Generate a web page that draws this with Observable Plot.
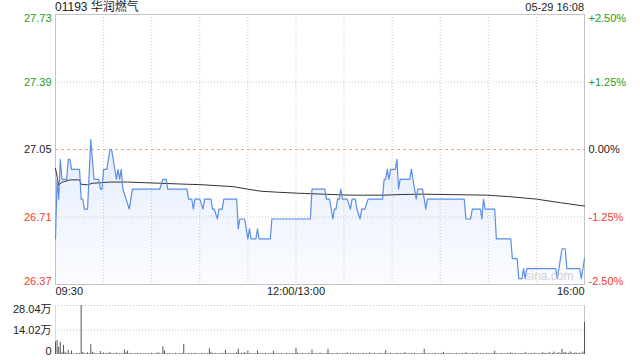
<!DOCTYPE html>
<html><head><meta charset="utf-8">
<script src="https://cdn.jsdelivr.net/npm/d3@7"></script>
<script src="https://cdn.jsdelivr.net/npm/@observablehq/plot@0.6"></script>
<style>
body{margin:0;background:#fff;font-family:"Liberation Sans",Arial,"Noto Sans CJK SC",sans-serif;}
#wrap{position:relative;width:640px;height:360px;overflow:hidden;background:#fff;}
.hdr{position:absolute;top:0;color:#222;line-height:14px;white-space:nowrap;}
#main,#vol{position:absolute;left:0;}
</style></head><body>
<div id="wrap">
<div id="main" style="top:0"></div>
<div id="vol" style="top:300px"></div>
<div class="hdr" style="left:55px;font-size:12px;">01193 华润燃气</div>
<div class="hdr" style="right:56px;font-size:11px;">05-29 16:08</div>
</div>
<script>
// ---- data ----
const stockTitle = "01193 华润燃气";
const prevClose = 27.05;
const priceTicks = [27.73, 27.39, 27.05, 26.71, 26.37];
const pctLabels = ["+2.50%", "+1.25%", "0.00%", "-1.25%", "-2.50%"];
const timeMinutes = [0, 150, 330];
const timeLabels = ["09:30", "12:00/13:00", "16:00"];
const gridMinutes = [30, 60, 90, 120, 150, 180, 210, 240, 270, 300];
const volTicks = [28.04, 14.02, 0];
const volTickLabels = ["28.04万", "14.02万", "0"];

// price vertices: minute since 09:30 (trading time), price
const priceMinutes = [0,1,2,3,4,7,8,9,10,15,16,17,18,20,22,24,27,28,29,30,32,34,35,37,38,39,40,41,42,44,46,48,65,67,69,70,82,83,85,86,87,90,92,93,97,98,99,101,102,104,105,113,114,115,118,120,121,122,125,126,127,134,135,159,160,168,169,171,173,174,175,176,177,178,179,182,184,185,187,188,190,191,193,195,204,205,206,207,208,209,212,213,214,215,221,222,223,225,226,229,231,232,255,256,259,260,265,266,267,268,274,275,284,285,288,289,291,292,293,294,312,313,316,318,319,327,328,330];
const priceValues = [26.60,26.90,26.80,27.00,26.90,26.90,27.00,27.00,26.95,26.95,26.80,26.80,26.75,26.75,27.10,26.90,26.90,26.85,26.85,26.95,26.95,27.05,27.05,26.95,26.90,26.95,26.90,26.95,26.85,26.80,26.75,26.85,26.85,26.90,26.90,26.85,26.85,26.80,26.80,26.75,26.80,26.80,26.75,26.80,26.80,26.75,26.75,26.70,26.75,26.75,26.80,26.80,26.65,26.70,26.70,26.60,26.65,26.60,26.60,26.65,26.60,26.60,26.70,26.70,26.85,26.85,26.80,26.80,26.70,26.75,26.75,26.80,26.80,26.85,26.80,26.80,26.75,26.80,26.80,26.75,26.70,26.75,26.75,26.80,26.80,26.90,26.90,26.95,26.90,26.95,26.95,27.00,26.85,26.90,26.90,26.95,26.90,26.80,26.85,26.85,26.75,26.80,26.80,26.70,26.70,26.75,26.75,26.70,26.80,26.75,26.75,26.60,26.60,26.50,26.50,26.40,26.40,26.45,26.40,26.45,26.45,26.40,26.55,26.55,26.45,26.45,26.40,26.50];

// average price vertices
const avgMinutes = [0,2,4,9,15,16,20,23,34,45,65,82,90,111,120,128,138,151,170,184,205,215,228,269,284,300,315,330];
const avgValues = [26.955,26.87,26.885,26.897,26.897,26.875,26.872,26.88,26.886,26.886,26.88,26.875,26.873,26.863,26.85,26.84,26.835,26.83,26.824,26.82,26.82,26.823,26.825,26.82,26.812,26.80,26.782,26.765];

// volume per minute (万股), minute 0..330
const volumes = [
7.2,8.0,4.2,7.0,1.0,5.2,1.4,0.6,2.4,0.5,
2.0,0.4,0.3,0.6,0.4,0.5,28.04,1.2,0.6,0.4,
1.0,0.5,5.8,1.3,0.8,0.4,0.6,0.3,1.7,0.5,
0.9,0.4,0.7,0.5,1.2,0.3,0.6,0.4,0.8,0.3,
0.5,0.6,0.3,2.5,1.0,2.0,0.4,0.6,0.3,0.5,
0.4,0.7,0.3,0.5,0.4,0.3,0.6,0.4,0.5,0.3,
0.7,0.4,0.3,0.6,1.0,0.5,0.4,4.4,2.0,0.5,
0.4,0.6,0.3,0.5,0.4,0.7,0.3,0.5,0.4,0.6,
5.8,0.5,0.3,0.6,0.4,0.5,0.3,0.7,0.4,0.5,
0.3,0.6,0.4,0.5,0.3,0.6,3.3,1.2,0.5,0.4,
0.6,0.3,0.5,0.4,0.7,0.3,2.5,0.6,0.4,0.5,
0.3,0.6,0.4,1.0,3.0,0.5,0.8,0.4,1.1,0.5,
2.0,0.4,0.6,0.3,0.5,0.4,2.0,0.6,0.3,0.5,
0.4,0.7,0.3,0.5,0.4,0.6,1.8,0.4,0.5,0.3,
0.6,0.4,0.5,0.3,0.7,0.4,0.5,0.3,0.6,0.4,
3.6,0.8,0.5,0.4,0.6,0.3,0.5,0.4,0.7,0.3,
2.5,0.5,0.4,0.6,0.3,0.8,0.4,0.5,0.3,0.6,
3.0,0.5,0.4,0.6,0.3,0.5,0.7,0.4,0.5,0.3,
0.6,0.4,1.0,0.3,0.5,0.4,0.7,0.3,0.6,0.4,
0.5,0.3,0.8,0.4,0.5,0.3,1.0,0.4,0.5,0.6,
0.3,0.5,0.4,0.7,0.3,0.6,2.2,0.5,0.4,0.6,
0.3,0.5,0.4,0.8,0.3,0.6,0.4,0.5,1.0,0.3,
0.5,0.4,0.6,0.3,0.7,0.4,0.5,0.3,0.6,0.4,
3.0,0.5,0.4,0.6,0.3,0.5,0.4,0.7,0.3,0.5,
0.4,0.6,1.2,0.3,0.5,0.4,0.6,0.3,0.5,0.4,
0.7,0.3,0.5,0.4,0.6,0.3,1.0,0.4,0.5,0.3,
0.6,0.4,0.5,0.8,0.3,0.6,0.4,0.5,0.3,0.7,
0.4,0.5,0.3,0.6,1.8,0.4,0.5,0.3,0.6,0.4,
0.5,0.3,0.7,0.4,1.0,0.5,0.4,0.6,0.3,0.5,
0.4,0.6,0.3,1.2,0.4,0.5,0.3,0.6,0.4,0.8,
0.3,0.5,0.4,0.6,1.0,0.5,0.7,0.4,1.2,0.5,
0.6,1.4,0.4,0.7,1.0,0.5,3.0,0.8,1.2,0.5,
0.6,1.5,0.8,0.5,1.0,0.6,0.4,0.8,0.5,1.4,
18.4];

// ---- build ----
const FONT = "Liberation Sans, Arial, 'Noto Sans CJK SC', sans-serif";
const GREEN = "#1c9e1c", RED = "#f03c2c", DARK = "#222";
const colorFor = p => Math.abs(p - prevClose) < 1e-9 ? DARK : (p > prevClose ? GREEN : RED);

const priceData = priceMinutes.map((m, i) => ({m, p: priceValues[i]}));
const avgData = avgMinutes.map((m, i) => ({m, p: avgValues[i]}));
const volData = volumes.map((v, m) => ({m, v}));
const yMin = d3.min(priceTicks), yMax = d3.max(priceTicks);
const tickRows = priceTicks.map((p, i) => ({p, label: p.toFixed(2), pct: pctLabels[i], c: colorFor(p)}));

const gradientDefs = () => {
  const defs = d3.create("svg:defs");
  const g = defs.append("linearGradient").attr("id", "pgrad")
    .attr("x1", 0).attr("y1", 0).attr("x2", 0).attr("y2", 1);
  g.append("stop").attr("offset", "0%").attr("stop-color", "#e4edfc");
  g.append("stop").attr("offset", "100%").attr("stop-color", "#fbfcff");
  return defs.node();
};

function tickLabelMarks(rows, lineAnchor) {
  return [
    Plot.text(rows, {y: "p", text: "label", fill: "c", frameAnchor: "left", textAnchor: "end", dx: -4, lineAnchor, fontSize: 11}),
    Plot.text(rows, {y: "p", text: "pct", fill: "c", frameAnchor: "right", textAnchor: "start", dx: 4, lineAnchor, fontSize: 11})
  ];
}
const timeRows = timeMinutes.map((m, i) => ({m, t: timeLabels[i]}));

const main = Plot.plot({
  width: 640, height: 300,
  marginLeft: 55, marginRight: 56, marginTop: 14, marginBottom: 16,
  style: {background: "transparent", fontFamily: FONT},
  x: {domain: [0, 330], axis: null},
  y: {domain: [yMin, yMax], axis: null},
  color: {type: "identity"},
  marks: [
    gradientDefs,
    Plot.areaY(priceData, {x: "m", y1: () => yMin, y2: "p", fill: "url(#pgrad)"}),
    Plot.ruleX(gridMinutes, {stroke: "#c8c8c8", strokeDasharray: "1,2"}),
    Plot.ruleY(priceTicks.filter(p => p !== prevClose && p !== yMin && p !== yMax), {stroke: "#c8c8c8", strokeDasharray: "1,2"}),
    Plot.ruleY([prevClose], {stroke: "#f2a66e", strokeDasharray: "3,3"}),
    Plot.frame({stroke: "#c4c4c4"}),
    Plot.line(avgData, {x: "m", y: "p", stroke: "#333", strokeWidth: 1}),
    Plot.line(priceData, {x: "m", y: "p", stroke: "#5b8ee6", strokeWidth: 1.2}),
    ...tickLabelMarks(tickRows.slice(0, 1), "top"),
    ...tickLabelMarks(tickRows.slice(1, tickRows.length - 1), "middle"),
    ...tickLabelMarks(tickRows.slice(tickRows.length - 1), "bottom"),
    Plot.text(timeRows.slice(0, 1), {x: "m", text: "t", frameAnchor: "bottom", textAnchor: "start", dy: 10, fontSize: 11, fill: DARK}),
    Plot.text(timeRows.slice(1, 2), {x: "m", text: "t", frameAnchor: "bottom", textAnchor: "middle", dy: 10, fontSize: 11, fill: DARK}),
    Plot.text(timeRows.slice(2), {x: "m", text: "t", frameAnchor: "bottom", textAnchor: "end", dy: 10, fontSize: 11, fill: DARK}),
    Plot.text(["sina.com"], {frameAnchor: "bottom-right", textAnchor: "end", dx: -11, dy: -5, fill: "#d2d2d2", fontSize: 12})
  ]
});
document.getElementById("main").appendChild(main);

const volRows = volTicks.map((v, i) => ({v, t: volTickLabels[i]}));
const vol = Plot.plot({
  width: 640, height: 60,
  marginLeft: 55, marginRight: 56, marginTop: 5, marginBottom: 6,
  style: {background: "transparent", fontFamily: FONT},
  x: {domain: [0, 330], axis: null},
  y: {domain: [0, d3.max(volTicks)], axis: null},
  marks: [
    Plot.ruleY(volTicks.filter(v => v > 0), {stroke: "#c8c8c8", strokeDasharray: "1,2"}),
    Plot.ruleX([0], {stroke: "#d8d8d8"}),
    Plot.ruleX([330], {stroke: "#c4c4c4"}),
    Plot.ruleX(volData, {x: "m", y1: () => 0, y2: "v", stroke: "#555", strokeWidth: 1}),
    Plot.text(volRows.slice(0, 1), {y: "v", text: "t", frameAnchor: "left", textAnchor: "end", dx: -4, lineAnchor: "top", fontSize: 11, fill: DARK}),
    Plot.text(volRows.slice(1, 2), {y: "v", text: "t", frameAnchor: "left", textAnchor: "end", dx: -4, lineAnchor: "middle", fontSize: 11, fill: DARK}),
    Plot.text(volRows.slice(2), {y: "v", text: "t", frameAnchor: "left", textAnchor: "end", dx: -4, lineAnchor: "bottom", fontSize: 11, fill: DARK})
  ]
});
document.getElementById("vol").appendChild(vol);
</script>
</body></html>
